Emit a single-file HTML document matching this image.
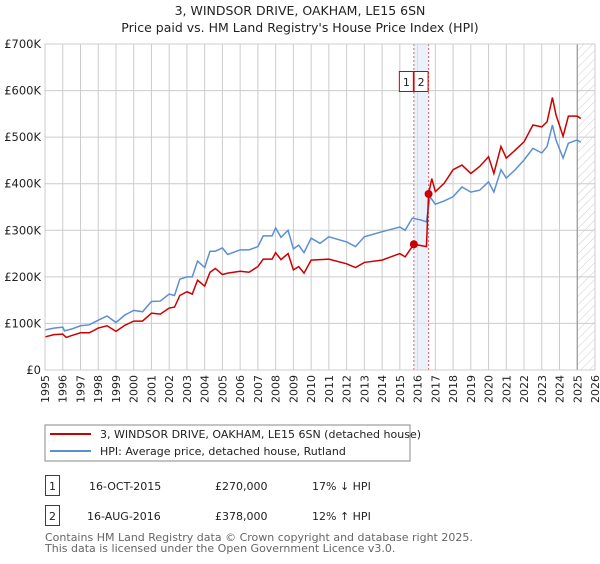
<!DOCTYPE html>
<html><head><meta charset="utf-8"><style>
body{margin:0;background:#fff;font-family:"DejaVu Sans","Liberation Sans",sans-serif;}
svg text{font-family:"DejaVu Sans","Liberation Sans",sans-serif;}
</style></head><body>
<svg id="chart" width="600" height="560" xmlns="http://www.w3.org/2000/svg">
<defs><pattern id="hatch" width="6" height="6" patternUnits="userSpaceOnUse" patternTransform="rotate(45)"><line x1="0" y1="0" x2="0" y2="6" stroke="#ccc" stroke-width="1"/></pattern></defs>
<text x="300" y="15" text-anchor="middle" font-size="12.5" fill="#222">3, WINDSOR DRIVE, OAKHAM, LE15 6SN</text>
<text x="300" y="32" text-anchor="middle" font-size="12.5" fill="#222">Price paid vs. HM Land Registry's House Price Index (HPI)</text>
<g id="grid"></g>
<g id="marks"></g>
<g id="axes"></g>
<rect x="45" y="425" width="365" height="36" fill="#fff" stroke="#888"/>
<line x1="50" y1="434" x2="91" y2="434" stroke="#cc0000" stroke-width="2"/>
<text x="100" y="438" font-size="11" fill="#222">3, WINDSOR DRIVE, OAKHAM, LE15 6SN (detached house)</text>
<line x1="50" y1="451" x2="91" y2="451" stroke="#5b8fd4" stroke-width="2"/>
<text x="100" y="455" font-size="11" fill="#222">HPI: Average price, detached house, Rutland</text>
<g>
<rect x="45.5" y="475.5" width="14" height="20" fill="none" stroke="#cc0000"/>
<text x="52.5" y="490" text-anchor="middle" font-size="11" fill="#222">1</text>
<text x="89" y="490" font-size="11" fill="#222">16-OCT-2015</text>
<text x="215" y="490" font-size="11" fill="#222">£270,000</text>
<text x="312" y="490" font-size="11" fill="#222">17% ↓ HPI</text></g>
<g>
<rect x="45.5" y="505.5" width="14" height="20" fill="none" stroke="#cc0000"/>
<text x="52.5" y="520" text-anchor="middle" font-size="11" fill="#222">2</text>
<text x="87" y="520" font-size="11" fill="#222">16-AUG-2016</text>
<text x="215" y="520" font-size="11" fill="#222">£378,000</text>
<text x="312" y="520" font-size="11" fill="#222">12% ↑ HPI</text></g>
<text x="45" y="541" font-size="11" fill="#666">Contains HM Land Registry data © Crown copyright and database right 2025.</text>
<text x="45" y="552" font-size="11" fill="#666">This data is licensed under the Open Government Licence v3.0.</text>
</svg>
<script>
const yearTicks=[1995,1996,1997,1998,1999,2000,2001,2002,2003,2004,2005,2006,2007,2008,2009,2010,2011,2012,2013,2014,2015,2016,2017,2018,2019,2020,2021,2022,2023,2024,2025,2026];
const valueTicks=[0,100,200,300,400,500,600,700];
const valueLabels=["£0","£100K","£200K","£300K","£400K","£500K","£600K","£700K"];
const hpiYears=[1995,1995.5,1996,1996.1,1996.5,1997,1997.5,1998,1998.5,1999,1999.5,2000,2000.5,2001,2001.5,2002,2002.3,2002.6,2003,2003.3,2003.6,2004,2004.3,2004.6,2005,2005.3,2006,2006.5,2007,2007.3,2007.8,2008,2008.3,2008.7,2009,2009.3,2009.6,2010,2010.5,2011,2012,2012.5,2013,2014,2015,2015.3,2015.7,2016.2,2016.5,2016.7,2017,2017.5,2018,2018.5,2019,2019.5,2020,2020.3,2020.7,2021,2021.5,2022,2022.5,2023,2023.3,2023.6,2023.8,2024.2,2024.5,2025,2025.2];
const hpiValues=[86,90,92,84,88,95,97,107,116,102,118,128,125,147,148,163,160,195,200,200,234,220,255,255,262,248,258,258,265,288,288,305,285,300,260,268,252,283,272,286,275,265,286,297,307,300,326,322,318,372,356,363,372,393,382,386,404,382,430,412,430,451,476,466,480,526,494,455,487,494,489];
const paidYears=[1995,1995.5,1996,1996.2,1996.5,1997,1997.5,1998,1998.5,1999,1999.5,2000,2000.5,2001,2001.5,2002,2002.3,2002.6,2003,2003.3,2003.6,2004,2004.3,2004.6,2005,2005.3,2006,2006.5,2007,2007.3,2007.8,2008,2008.3,2008.7,2009,2009.3,2009.6,2010,2011,2012,2012.5,2013,2014,2014.5,2015,2015.3,2015.79,2016.5,2016.62,2016.8,2017,2017.5,2018,2018.5,2019,2019.5,2020,2020.3,2020.7,2021,2021.5,2022,2022.5,2023,2023.3,2023.6,2023.8,2024.2,2024.5,2025,2025.2];
const paidValues=[71,76,77,70,74,80,80,90,95,83,96,105,105,122,120,133,135,160,168,163,193,180,210,218,205,208,212,210,222,238,238,252,237,250,215,222,208,236,238,228,220,231,236,243,250,243,270,265,378,411,383,401,430,440,422,437,458,422,480,455,472,490,526,522,533,585,548,502,545,545,540];
const saleYears=[2015.79,2016.62];
const saleValues=[270,378];
const saleLabels=["1","2"];
const X=y=>45+(y-1995)*(550/31);
const Y=v=>370-v*(326/700);
const NS="http://www.w3.org/2000/svg";
function mk(p,tag,attrs){const e=document.createElementNS(NS,tag);for(const k in attrs)e.setAttribute(k,attrs[k]);p.appendChild(e);return e;}
const grid=document.getElementById('grid'),marks=document.getElementById('marks'),axes=document.getElementById('axes');
yearTicks.forEach(t=>{const l=mk(grid,'line',{x1:X(t),x2:X(t),y1:44,y2:370,stroke:'#ccc'});


const tx=mk(axes,'text',{x:0,y:0,'font-size':11,fill:'#222','text-anchor':'end',transform:`translate(${X(t)+4},375) rotate(-90)`});tx.textContent=t;

});
valueTicks.forEach((v,i)=>{const l=mk(grid,'line',{x1:45,x2:595,y1:Y(v),y2:Y(v),stroke:'#ccc'});


const tx=mk(axes,'text',{x:41,y:Y(v)+4,'font-size':11.5,fill:'#222','text-anchor':'end'});tx.textContent=valueLabels[i];

});
const hatch=mk(grid,'rect',{x:X(2025),y:44,width:595-X(2025),height:326,fill:'url(#hatch)'});


mk(grid,'line',{x1:X(2025),x2:X(2025),y1:44,y2:370,stroke:'#999','stroke-width':1.2});
const band=mk(grid,'rect',{x:X(saleYears[0]),y:44,width:X(saleYears[1])-X(saleYears[0]),height:326,fill:'#dde7f8',opacity:0.6});


saleYears.forEach((s,i)=>{const l=mk(grid,'line',{x1:X(s),x2:X(s),y1:44,y2:370,stroke:'#e06060','stroke-dasharray':'2,2'});

});
const frame=mk(axes,'rect',{x:45,y:44,width:550,height:326,fill:'none',stroke:'#ccc'});


const hp=mk(marks,'polyline',{points:hpiYears.map((y,i)=>X(y)+','+Y(hpiValues[i])).join(' '),fill:'none',stroke:'#5b8fd4','stroke-width':1.5});


const pp=mk(marks,'polyline',{points:paidYears.map((y,i)=>X(y)+','+Y(paidValues[i])).join(' '),fill:'none',stroke:'#cc0000','stroke-width':1.5});


saleYears.forEach((s,i)=>{const c=mk(marks,'circle',{cx:X(s),cy:Y(saleValues[i]),r:4,fill:'#cc0000'});


const g=mk(marks,'g',{});


mk(g,'rect',{x:X(s)-14.5,y:71.5,width:14,height:20,fill:'#fff',stroke:'#cc0000'});
const t=mk(g,'text',{x:X(s)-7.5,y:86,'font-size':11,'text-anchor':'middle',fill:'#222'});t.textContent=saleLabels[i];});
</script>
</body></html>
